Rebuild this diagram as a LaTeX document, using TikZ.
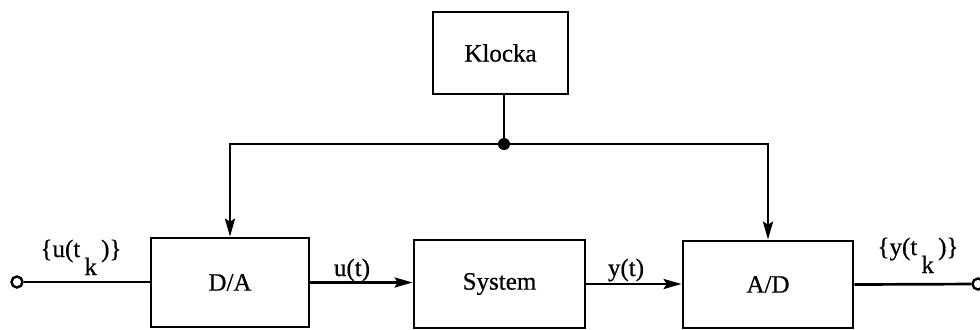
\documentclass[tikz,border=0pt]{standalone}
\usepackage{fontspec}
\setmainfont{Liberation Serif}[UprightFeatures={FakeBold=0.6}]
\usetikzlibrary{arrows.meta}
\tikzset{
  blockbox/.style={draw, line width=1.35pt, fill=white, font=\fontsize{12.5}{14}\selectfont},
  sigline/.style={line width=1.35pt},
  sigarrow/.style={line width=1.35pt, -{Stealth[length=9pt, width=5pt, inset=1.5pt]}},
  terminal/.style={circle, draw, line width=1.2pt, fill=white, inner sep=0pt, minimum size=5.5pt},
  siglabel/.style={font=\fontsize{12.5}{14}\selectfont, inner sep=0pt},
}

\begin{document}
\begin{tikzpicture}[x=0.5pt,y=-0.5pt]
\useasboundingbox (0,0) rectangle (980,329);
% blocks
\node[blockbox, minimum width=79pt, minimum height=44.5pt] (da) at (230,282.5) {D/A};
\node[blockbox, minimum width=85.5pt, minimum height=44pt] (sys) at (499.5,284) {System};
\node[blockbox, minimum width=85pt, minimum height=43.5pt] (ad) at (768,284.5) {A/D};
\node[blockbox, minimum width=67.5pt, minimum height=41pt] (klocka) at (500.5,53) {Klocka};
% in and out terminals
\node[terminal] (uin) at (17,282) {};
\node[terminal] (yout) at (978,284) {};
\coordinate (tick) at (504,144);
% clock distribution
\draw[sigline] (tick |- klocka.south) -- (tick);
\draw[sigarrow] (tick) -| (da.north);
\draw[sigarrow] (tick) -| (ad.north);
\fill (tick) circle (3pt);
% signal path
\draw[sigline] (uin) -- (uin -| da.west);
\draw[sigarrow] (da.east) -- (da.east -| sys.west);
\draw[sigarrow] (sys.east) -- (sys.east -| ad.west);
\draw[sigline] (ad.east) -- (yout);
% labels
\node[siglabel, anchor=base] at (81,257) {\{u(t\,\raisebox{-9pt}{k}\,)\}};
\node[siglabel] at (352,270) {u(t)};
\node[siglabel] at (626,270) {y(t)};
\node[siglabel, anchor=base] at (918,255) {\{y(t\,\raisebox{-9pt}{k}\,)\}};
\end{tikzpicture}
\end{document}
